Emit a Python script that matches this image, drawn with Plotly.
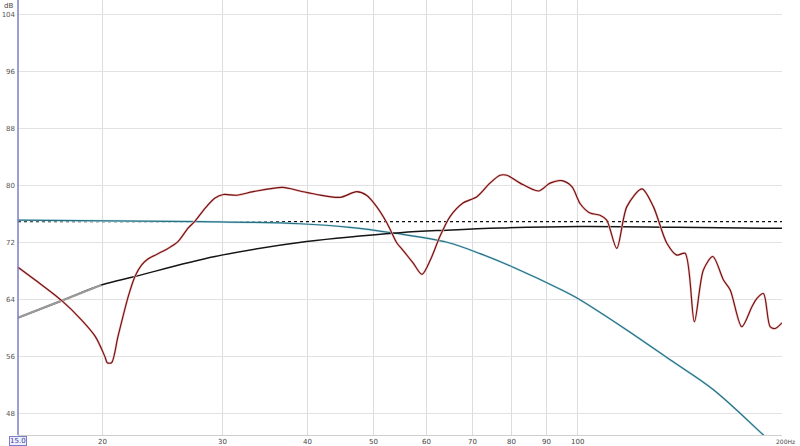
import math
import plotly.graph_objects as go

# Measured response (red)
resp_freq = [15.0, 15.9, 17.4, 18.6, 19.5, 20.15, 20.3, 20.6, 21.05, 21.8, 22.3, 22.8, 23.3, 24.7,
             25.8, 26.7, 27.3, 28.3, 29.25, 30.1, 31.5, 33.3, 36.8, 39.0, 41.3, 44.7, 47.3, 48.9,
             50.6, 52.4, 54.2, 55.3, 57.25, 59.0, 60.7, 62.7, 64.9, 67.8, 71.1, 74.3, 76.9, 78.7,
             82.3, 87.6, 91.1, 94.8, 98.1, 100.9, 104.3, 107.9, 110.4, 114.2, 118.2, 124.4, 129.3,
             135.3, 140.0, 144.0, 148.6, 153.2, 158.2, 164.0, 167.8, 174.5, 180.6, 183.6, 187.8,
             192.1, 195.4, 200.0]
resp_db = [68.6, 66.8, 63.9, 61.2, 58.85, 56.0, 55.2, 55.2, 58.85, 64.5, 67.3, 68.9, 69.75, 71.0,
           72.2, 74.1, 75.0, 76.9, 78.3, 78.8, 78.7, 79.2, 79.8, 79.3, 78.8, 78.4, 79.2, 78.7,
           77.1, 74.8, 72.0, 71.0, 69.2, 67.6, 69.6, 72.9, 75.7, 77.6, 78.5, 80.4, 81.5, 81.5,
           80.4, 79.3, 80.4, 80.75, 79.9, 77.5, 76.2, 75.9, 75.2, 71.25, 77.1, 79.6, 77.1,
           72.0, 70.3, 70.55, 60.95, 68.2, 70.1, 66.8, 65.4, 60.25, 63.05, 64.2, 64.9,
           60.25, 60.0, 60.8]

# Black curve (high-pass target)
hp_freq = [15.0, 17.4, 19.9, 22.3, 29.25, 39.9, 54.8, 64.2, 77.0, 100.9, 140.0, 200.0]
hp_db = [61.5, 63.9, 66.1, 67.3, 70.1, 72.2, 73.45, 73.8, 74.1, 74.3, 74.2, 74.05]

# Teal curve (low-pass target)
lp_freq = [15.0, 27.8, 39.0, 46.2, 53.6, 64.2, 71.9, 80.4, 95.3, 99.7, 116.8, 136.9, 158.5, 187.8, 200.0]
lp_db = [75.2, 75.0, 74.7, 74.2, 73.4, 72.1, 70.5, 68.6, 65.3, 64.3, 60.1, 55.6, 51.4, 45.05, 42.7]

# Reference level (dotted)
ref_level = 75.0

y_ticks = [48, 56, 64, 72, 80, 88, 96, 104]
x_grid = [20, 30, 40, 50, 60, 70, 80, 90, 100]
x_labels = ["20", "30", "40", "50", "60", "70", "80", "90", "100"]

fig = go.Figure()

fig.add_trace(go.Scatter(x=[15, 200], y=[ref_level, ref_level], mode="lines",
                         line=dict(color="#111111", width=1.3, dash="dot"), hoverinfo="skip"))

fig.add_trace(go.Scatter(x=lp_freq, y=lp_db, mode="lines", line=dict(color="#bfe4f0", width=2.2, shape="spline"),
                         hoverinfo="skip"))
fig.add_trace(go.Scatter(x=lp_freq, y=lp_db, mode="lines", line=dict(color="#2a6f80", width=1.2, shape="spline"),
                         hoverinfo="skip"))

fig.add_trace(go.Scatter(x=hp_freq, y=hp_db, mode="lines", line=dict(color="#151515", width=1.5, shape="spline"),
                         hoverinfo="skip"))
fig.add_trace(go.Scatter(x=hp_freq[:3], y=hp_db[:3], mode="lines", line=dict(color="#9a9a9a", width=2.3, shape="spline"),
                         hoverinfo="skip"))

fig.add_trace(go.Scatter(x=resp_freq, y=resp_db, mode="lines", line=dict(color="#f6c2c2", width=2.3, shape="spline", smoothing=0.8),
                         hoverinfo="skip"))
fig.add_trace(go.Scatter(x=resp_freq, y=resp_db, mode="lines", line=dict(color="#6e1212", width=1.15, shape="spline", smoothing=0.8),
                         hoverinfo="skip"))

annotations = [
    dict(text="dB", xref="paper", yref="paper", x=-0.004, y=1.0, xanchor="right", yanchor="top",
         showarrow=False, font=dict(size=7, color="#444444")),
    dict(text="15.0", xref="paper", yref="paper", x=0, y=0, xanchor="center", yanchor="top", yshift=-1,
         showarrow=False, bordercolor="#7b7bc8", borderwidth=1, borderpad=0,
         bgcolor="#eef0ff", font=dict(size=7, color="#3a3a9a")),
    dict(text="200Hz", xref="paper", yref="paper", x=1.0, y=0, xanchor="left", yanchor="top", xshift=-8, yshift=-1,
         showarrow=False, font=dict(size=6, color="#444444")),
]
for fv, lab in zip(x_grid, x_labels):
    annotations.append(dict(text=lab, x=math.log10(fv), xref="x", y=0, yref="paper", xanchor="center",
                            yanchor="top", yshift=-1, showarrow=False, font=dict(size=7, color="#444444")))

fig.update_layout(
    width=800, height=446,
    margin=dict(l=18, r=18, t=0, b=11),
    paper_bgcolor="white", plot_bgcolor="white",
    showlegend=False,
    font=dict(family="DejaVu Sans", size=7, color="#444444"),
    xaxis=dict(type="log", range=[1.176091, 2.30103], tickvals=x_grid, showticklabels=False,
               showgrid=True, gridcolor="#dcdcdc", gridwidth=1, zeroline=False, automargin=False,
               showline=True, linecolor="#cfcfcf", mirror=True, ticks=""),
    yaxis=dict(range=[45.05, 106.1], tickvals=y_ticks, showgrid=True, gridcolor="#e2e2e2", automargin=False,
               zeroline=False, showline=False, ticks="", ticklabelstandoff=2,
               tickfont=dict(size=7, color="#555555")),
    shapes=[dict(type="line", xref="paper", yref="paper", x0=0, x1=0, y0=0, y1=1,
                 line=dict(color="#7b7bc8", width=1.5))],
    annotations=annotations,
)

fig.write_html("out.html", config={"displayModeBar": False},
               post_script="document.body.style.margin='0';document.body.style.overflow='hidden';")
